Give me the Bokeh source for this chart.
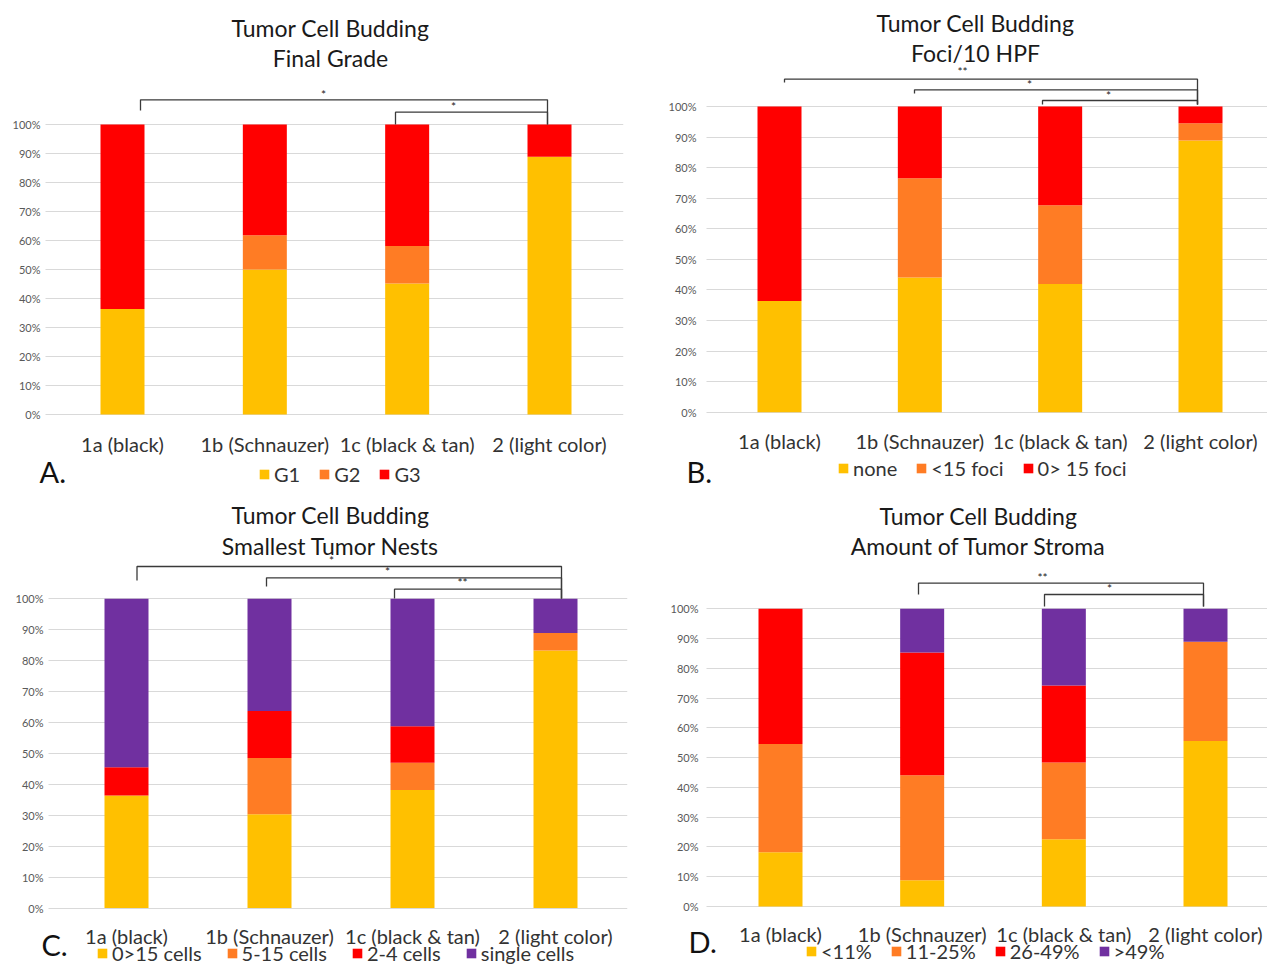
from bokeh.plotting import figure
from bokeh.models import (Range1d, FixedTicker, Legend, LegendItem, ColumnDataSource, Label,
                          BoxAnnotation)
from bokeh.layouts import column, row
from bokeh.embed import file_html
from bokeh.resources import INLINE
from bokeh.core.properties import value

# ---------------- data ----------------
categories = ["1a (black)", "1b (Schnauzer)", "1c (black & tan)", "2 (light color)"]
y_ticks = [0, 10, 20, 30, 40, 50, 60, 70, 80, 90, 100]

a_title = ["Tumor Cell Budding", "Final Grade"]
a_series = ["G1", "G2", "G3"]
a_g1 = [36.4, 50.0, 45.2, 88.9]
a_g2 = [0.0, 11.8, 12.9, 0.0]
a_g3 = [63.6, 38.2, 41.9, 11.1]
a_comparisons = [(0, 3, "*"), (2, 3, "*")]

b_title = ["Tumor Cell Budding", "Foci/10 HPF"]
b_series = ["none", "<15 foci", "0> 15 foci"]
b_none = [36.4, 44.1, 41.9, 88.9]
b_lt15 = [0.0, 32.4, 25.8, 5.6]
b_gt15 = [63.6, 23.5, 32.3, 5.5]
b_comparisons = [(0, 3, "**"), (1, 3, "*"), (2, 3, "*")]

c_title = ["Tumor Cell Budding", "Smallest Tumor Nests"]
c_series = ["0>15 cells", "5-15 cells", "2-4 cells", "single cells"]
c_gt15 = [36.4, 30.3, 38.2, 83.3]
c_5_15 = [0.0, 18.2, 8.8, 5.6]
c_2_4 = [9.1, 15.2, 11.8, 0.0]
c_single = [54.5, 36.3, 41.2, 11.1]
c_comparisons = [(0, 3, "*"), (1, 3, "*"), (2, 3, "**")]

d_title = ["Tumor Cell Budding", "Amount of Tumor Stroma"]
d_series = ["<11%", "11-25%", "26-49%", ">49%"]
d_lt11 = [18.2, 8.8, 22.6, 55.6]
d_11_25 = [36.4, 35.3, 25.8, 33.3]
d_26_49 = [45.4, 41.2, 25.8, 0.0]
d_gt49 = [0.0, 14.7, 25.8, 11.1]
d_comparisons = [(1, 3, "**"), (2, 3, "*")]

YELLOW, ORANGE, RED, PURPLE = "#FFC000", "#FF7C24", "#FF0000", "#7030A0"
FONT = "Lato"

# ---------------- layout (reference pixel geometry) ----------------
# fl: plotting-frame left edge, gl/gr: visible gridline extent, lr: right edge of tick labels
LAYOUT = {
    "A": dict(ox=0, oy=0, w=635, h=490, fl=36, gl=45, gr=623, lr=40, y0=414, y100=124, b1=122, b4=549,
              t1=27, t2=57, tx=330, letter=(39, 471), xlab=443, leg=(258, 474), leg_sp=18,
              brackets=[(140, 547, 99.3, 110, 124, 323, 94), (395, 547, 111.7, 124, 124, 453, 106)]),
    "B": dict(ox=635, oy=0, w=632, h=490, fl=683, gl=706, gr=1267, lr=696, y0=411.7, y100=106, b1=779, b4=1200,
              t1=22, t2=52, tx=975, letter=(686, 471), xlab=440, leg=(837, 468), leg_sp=18,
              brackets=[(784, 1197, 78.7, 82, 104, 962, 71), (914, 1197, 89.3, 93, 104, 1029, 84),
                        (1042, 1197, 100, 104, 104, 1108, 95)]),
    "C": dict(ox=0, oy=490, w=635, h=475, fl=38, gl=48, gr=627, lr=43, y0=907.5, y100=598.3, b1=126, b4=555,
              t1=514, t2=545, tx=330, letter=(41, 944), xlab=935, leg=(96, 957), leg_sp=24,
              brackets=[(136.5, 561, 566, 580, 598, 331, 560), (266, 561, 577.3, 586, 598, 387, 571),
                        (394, 561, 588.7, 598, 598, 462, 582)]),
    "D": dict(ox=635, oy=490, w=632, h=475, fl=685, gl=706, gr=1267, lr=698, y0=906, y100=608.3, b1=780, b4=1205,
              t1=515, t2=545, tx=978, letter=(688, 941), xlab=933, leg=(805, 951), leg_sp=18,
              brackets=[(918, 1203, 582.7, 594, 606, 1042, 577), (1044, 1203, 594, 606, 606, 1109, 588)]),
}


def make_panel(key, title, series, values, colors, comparisons):
    L = LAYOUT[key]
    ppx = (L["b4"] - L["b1"]) / 3.0
    ppy = (L["y0"] - L["y100"]) / 100.0

    def dx(px):
        return 1 + (px - L["b1"]) / ppx

    def dy(py):
        return (L["y0"] - py) / ppy

    p = figure(width=L["w"], height=L["h"],
               x_range=Range1d(dx(L["fl"]), dx(L["gr"])),
               y_range=Range1d(dy(L["oy"] + L["h"]), dy(L["oy"])),
               output_backend="svg", toolbar_location=None, x_axis_location=None,
               min_border_left=int(round(L["fl"] - L["ox"])),
               min_border_right=int(round(L["w"] - (L["gr"] - L["ox"]))),
               min_border_top=0, min_border_bottom=0)
    p.outline_line_color = None
    p.background_fill_color = "white"
    p.border_fill_color = "white"

    # hide the grid stubs between the frame edge and the start of the gridlines
    p.add_layout(BoxAnnotation(left=dx(L["fl"]) - 1, right=dx(L["gl"]), bottom=-1.5, top=101.5,
                               fill_color="white", fill_alpha=1, line_color=None, level="underlay"))

    data = {"x": [1, 2, 3, 4]}
    for s, v in zip(series, values):
        data[s] = v
    src = ColumnDataSource(data)
    rs = p.vbar_stack(series, x="x", width=44 / ppx, color=colors, source=src, line_color=None)

    # y axis (percent)
    p.yaxis.ticker = FixedTicker(ticks=y_ticks)
    p.yaxis.major_label_overrides = {t: f"{t}%" for t in y_ticks}
    p.yaxis.axis_line_color = None
    p.yaxis.major_tick_line_color = None
    p.yaxis.minor_tick_line_color = None
    p.yaxis.major_tick_in = 0
    p.yaxis.major_tick_out = 0
    p.yaxis.major_label_text_font = FONT
    p.yaxis.major_label_text_font_size = "11px"
    p.yaxis.major_label_text_color = "#595959"
    p.yaxis.major_label_standoff = int(round(L["fl"] - L["lr"]))

    p.xgrid.grid_line_color = None
    p.ygrid.ticker = FixedTicker(ticks=y_ticks)
    p.ygrid.grid_line_color = "#D9D9D9"
    p.ygrid.grid_line_width = 1

    # category labels
    p.text(x=[1, 2, 3, 4], y=[dy(L["xlab"])] * 4, text=categories,
           text_font=value(FONT), text_font_size="20px", text_align="center",
           text_baseline="middle", text_color="#333333")

    # titles
    p.text(x=[dx(L["tx"]), dx(L["tx"])], y=[dy(L["t1"]), dy(L["t2"])], text=title,
           text_font=value(FONT), text_font_size="23px", text_align="center",
           text_baseline="middle", text_color="#1a1a1a")

    # significance brackets
    xs, ys, sx, sy, st = [], [], [], [], []
    for (xl, xr, yl, yle, yre, tx, ty), (_, _, lab) in zip(L["brackets"], comparisons):
        xs.append([dx(xl), dx(xl), dx(xr), dx(xr)])
        ys.append([dy(yle), dy(yl), dy(yl), dy(yre)])
        sx.append(dx(tx))
        sy.append(dy(ty))
        st.append(lab)
    p.multi_line(xs=xs, ys=ys, line_color="#3a3a3a", line_width=1.3)
    p.text(x=sx, y=sy, text=st, text_font=value(FONT), text_font_size="12px",
           text_align="center", text_baseline="middle", text_color="#222222")

    # panel letter
    lx, ly = L["letter"]
    p.add_layout(Label(x=dx(lx), y=dy(ly), x_units="data", y_units="data", text=key + ".",
                       text_font=FONT, text_font_size="29px", text_color="#111111",
                       text_baseline="middle", text_align="left"))

    # legend
    leg_x, leg_y = L["leg"]
    legend = Legend(items=[LegendItem(label=s, renderers=[r]) for s, r in zip(series, rs)],
                    orientation="horizontal",
                    location=(int(round(leg_x - L["fl"])),
                              max(0, int(round(L["oy"] + L["h"] - leg_y - 12)))))
    legend.border_line_color = None
    legend.background_fill_alpha = 0
    legend.label_text_font = FONT
    legend.label_text_font_size = "20px"
    legend.label_text_color = "#333333"
    legend.glyph_width = 12
    legend.glyph_height = 12
    legend.label_height = 18
    legend.label_standoff = 4
    legend.spacing = L["leg_sp"]
    legend.padding = 0
    legend.margin = 0
    p.add_layout(legend)
    return p


pa = make_panel("A", a_title, a_series, [a_g1, a_g2, a_g3], [YELLOW, ORANGE, RED], a_comparisons)
pb = make_panel("B", b_title, b_series, [b_none, b_lt15, b_gt15], [YELLOW, ORANGE, RED], b_comparisons)
pc = make_panel("C", c_title, c_series, [c_gt15, c_5_15, c_2_4, c_single],
                [YELLOW, ORANGE, RED, PURPLE], c_comparisons)
pd = make_panel("D", d_title, d_series, [d_lt11, d_11_25, d_26_49, d_gt49],
                [YELLOW, ORANGE, RED, PURPLE], d_comparisons)

layout = column(row(pa, pb), row(pc, pd))
open("out.html", "w").write(file_html(layout, INLINE))
